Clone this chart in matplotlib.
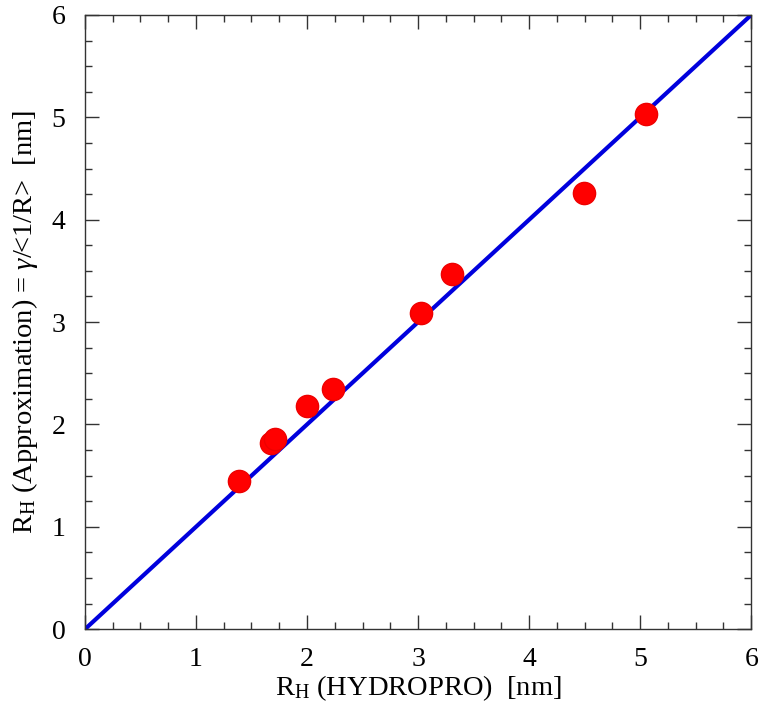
import numpy as np
import matplotlib.pyplot as plt
from matplotlib.ticker import MultipleLocator

plt.rcParams['font.family'] = ['Liberation Serif', 'DejaVu Serif']
plt.rcParams['mathtext.fontset'] = 'custom'
plt.rcParams['mathtext.rm'] = 'Liberation Serif'
plt.rcParams['mathtext.it'] = 'Liberation Serif:italic'

# data
rh_hydropro = [1.39, 1.68, 1.71, 2.00, 2.23, 3.03, 3.31, 4.49, 5.05]
rh_approx   = [1.45, 1.82, 1.86, 2.18, 2.35, 3.09, 3.47, 4.26, 5.03]
diag = [0, 6]

fig = plt.figure(figsize=(7.65, 7.11), dpi=100)
ax = fig.add_axes([0.111, 0.115, 0.871, 0.864])

ax.plot(diag, diag, color='#0000dd', lw=3.0, zorder=2)
ax.plot(rh_hydropro, rh_approx, 'o', color='#ff0000', ms=16, mec='#ee0000', zorder=3)

ax.set_xlim(0, 6)
ax.set_ylim(0, 6)
ax.xaxis.set_major_locator(MultipleLocator(1))
ax.yaxis.set_major_locator(MultipleLocator(1))
ax.xaxis.set_minor_locator(MultipleLocator(0.25))
ax.yaxis.set_minor_locator(MultipleLocator(0.25))
ax.tick_params(which='both', direction='in', top=True, right=True, color='#333333', width=1.0)
ax.tick_params(which='major', length=10, labelsize=20)
ax.tick_params(axis='x', which='major', pad=13)
ax.tick_params(axis='y', which='major', pad=14)
ax.tick_params(which='minor', length=5)
for s in ax.spines.values():
    s.set_color('#333333')
    s.set_linewidth(1.0)

ax.set_xlabel(r'R$_{\rm H}$ (HYDROPRO)  [nm]', fontsize=20.5, labelpad=1)
ax.set_ylabel(r'R$_{\rm H}$ (Approximation) = $\gamma$/<1/R>  [nm]', fontsize=20.5, labelpad=8)

fig.savefig('out.png', dpi=100)
